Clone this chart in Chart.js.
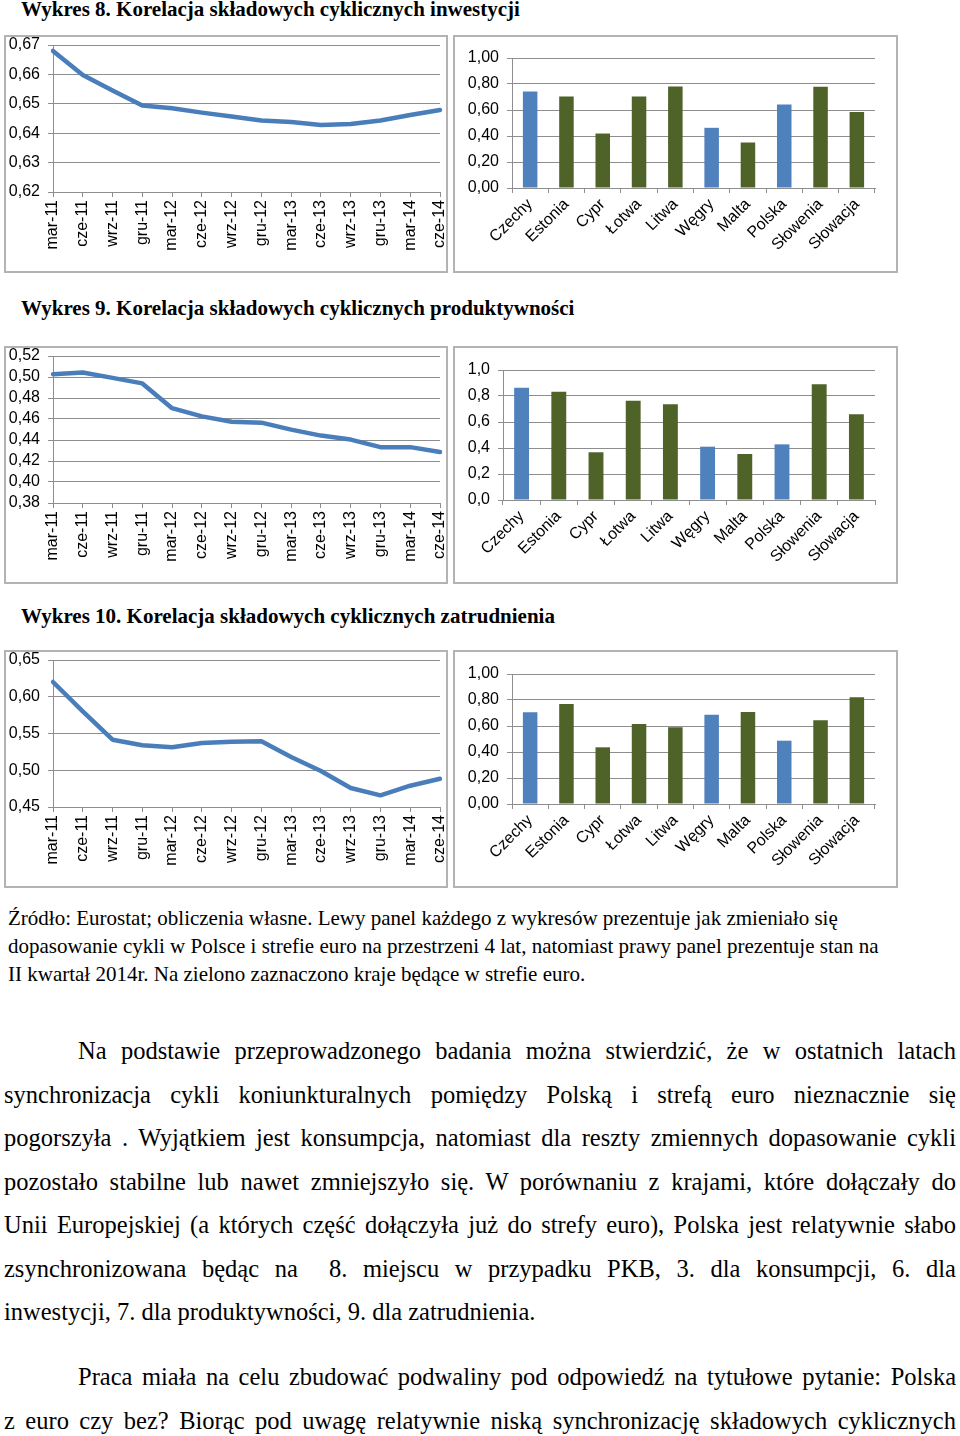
<!DOCTYPE html>
<html lang="pl">
<head>
<meta charset="utf-8">
<title>Wykresy 8-10</title>
<script src="https://cdn.jsdelivr.net/npm/chart.js@4.4.1/dist/chart.umd.min.js"></script>
<style>
  html, body { margin: 0; padding: 0; background: #fff; }
  body { width: 960px; height: 1436px; position: relative; overflow: hidden;
         font-family: "Liberation Serif", "Times New Roman", serif; color: #000; }
  .title { position: absolute; left: 21px; font-weight: bold; font-size: 21px; line-height: 24px; white-space: nowrap; }
  .box { position: absolute; box-sizing: border-box; height: 238px; border: 2px solid #b3b3b3; background: #fff; }
  .box.l { left: 4px; width: 444px; }
  .box.r { left: 453px; width: 445px; }
  .box canvas { display: block; }
  .note { position: absolute; left: 8px; top: 904px; font-size: 21px; line-height: 28px; white-space: nowrap; }
  .par { position: absolute; left: 4px; width: 952px; font-size: 24.5px; line-height: 43.5px; }
  .par span { display: block; text-align: justify; text-align-last: justify; }
  .par span.first { padding-left: 74px; }
  .par span.last { text-align-last: left; }
</style>
</head>
<body>

<div class="title" style="top:-3px">Wykres 8. Korelacja składowych cyklicznych inwestycji</div>
<div class="box l" style="top:35px"><canvas id="invLine" width="440" height="234"></canvas></div>
<div class="box r" style="top:35px"><canvas id="invBars" width="441" height="234"></canvas></div>

<div class="title" style="top:296px">Wykres 9. Korelacja składowych cyklicznych produktywności</div>
<div class="box l" style="top:346px"><canvas id="prodLine" width="440" height="234"></canvas></div>
<div class="box r" style="top:346px"><canvas id="prodBars" width="441" height="234"></canvas></div>

<div class="title" style="top:604px">Wykres 10. Korelacja składowych cyklicznych zatrudnienia</div>
<div class="box l" style="top:650px"><canvas id="empLine" width="440" height="234"></canvas></div>
<div class="box r" style="top:650px"><canvas id="empBars" width="441" height="234"></canvas></div>

<div class="note">Źródło: Eurostat; obliczenia własne. Lewy panel każdego z wykresów prezentuje jak zmieniało się<br>
dopasowanie cykli w Polsce i strefie euro na przestrzeni 4 lat, natomiast prawy panel prezentuje stan na<br>
II kwartał 2014r. Na zielono zaznaczono kraje będące w strefie euro.</div>

<div class="par" style="top:1029px">
  <span class="first">Na podstawie przeprowadzonego badania można stwierdzić, że w ostatnich latach</span>
  <span>synchronizacja cykli koniunkturalnych pomiędzy Polską i strefą euro nieznacznie się</span>
  <span>pogorszyła . Wyjątkiem jest konsumpcja, natomiast dla reszty zmiennych dopasowanie cykli</span>
  <span>pozostało stabilne lub nawet zmniejszyło się. W porównaniu z krajami, które dołączały do</span>
  <span>Unii Europejskiej (a których część dołączyła już do strefy euro), Polska jest relatywnie słabo</span>
  <span>zsynchronizowana będąc na &nbsp;8. miejscu w przypadku PKB, 3. dla konsumpcji, 6. dla</span>
  <span class="last">inwestycji, 7. dla produktywności, 9. dla zatrudnienia.</span>
</div>

<div class="par" style="top:1355px">
  <span class="first">Praca miała na celu zbudować podwaliny pod odpowiedź na tytułowe pytanie: Polska</span>
  <span>z euro czy bez? Biorąc pod uwagę relatywnie niską synchronizację składowych cyklicznych</span>
</div>

<script>
// kwartały (lewe panele) i kraje (prawe panele)
const quarters = ["mar-11", "cze-11", "wrz-11", "gru-11", "mar-12", "cze-12", "wrz-12",
                  "gru-12", "mar-13", "cze-13", "wrz-13", "gru-13", "mar-14", "cze-14"];
const countries = ["Czechy", "Estonia", "Cypr", "Łotwa", "Litwa", "Węgry", "Malta",
                   "Polska", "Słowenia", "Słowacja"];
const inEuro = [false, true, true, true, true, false, true, false, true, true];

// Wykres 8 - inwestycje
const invLineValues = [0.668, 0.6598, 0.6545, 0.6494, 0.6485, 0.6470, 0.6457,
                       0.6443, 0.6438, 0.6428, 0.6431, 0.6443, 0.6462, 0.6479];
const invLineTicks = [0.62, 0.63, 0.64, 0.65, 0.66, 0.67];
const invBarValues = [0.743, 0.704, 0.419, 0.704, 0.781, 0.463, 0.350, 0.643, 0.779, 0.584];
const invBarTicks = [0, 0.2, 0.4, 0.6, 0.8, 1.0];

// Wykres 9 - produktywnosc
const prodLineValues = [0.5027, 0.5043, 0.4992, 0.4939, 0.4703, 0.4625, 0.4574,
                        0.4565, 0.4499, 0.4442, 0.4404, 0.4332, 0.4332, 0.4285];
const prodLineTicks = [0.38, 0.40, 0.42, 0.44, 0.46, 0.48, 0.50, 0.52];
const prodBarValues = [0.864, 0.833, 0.367, 0.764, 0.736, 0.410, 0.354, 0.428, 0.890, 0.659];
const prodBarTicks = [0, 0.2, 0.4, 0.6, 0.8, 1.0];

// Wykres 10 - zatrudnienie
const empLineValues = [0.6201, 0.5800, 0.5416, 0.5339, 0.5312, 0.5371, 0.5389,
                       0.5393, 0.5180, 0.4990, 0.4758, 0.4659, 0.4790, 0.4885];
const empLineTicks = [0.45, 0.50, 0.55, 0.60, 0.65];
const empBarValues = [0.705, 0.769, 0.436, 0.615, 0.590, 0.687, 0.708, 0.487, 0.644, 0.821];
const empBarTicks = [0, 0.2, 0.4, 0.6, 0.8, 1.0];

const lineBlue = "#4a7ebb";
const barBlue = "#4f81bd";
const barGreen = "#4f6228";
const gridGrey = "#8e8e8e";
const tickFont = { family: "'Liberation Sans', Arial, sans-serif", size: 16 };

const fmt = (dec) => (v) => Number(v).toFixed(dec).replace(".", ",");

// fixed axis sizes so the plot areas sit where the original ones do
function yAxis(ticks, dec, width) {
    return {
        min: ticks[0],
        max: ticks[ticks.length - 1],
        afterBuildTicks: (s) => { s.ticks = ticks.map((v) => ({ value: v })); },
        afterFit: (s) => { s.width = width; s.paddingTop = 0; s.paddingBottom = 0; },
        grid: { color: gridGrey, tickLength: 5 },
        border: { color: gridGrey },
        ticks: { autoSkip: false, callback: fmt(dec), color: "#000", font: tickFont, padding: 8 },
    };
}

function xAxis(height, rotation, pad) {
    return {
        afterFit: (s) => { s.height = height; s.paddingLeft = 0; s.paddingRight = 0; },
        grid: { drawOnChartArea: false, color: gridGrey, tickLength: 5 },
        border: { color: gridGrey },
        ticks: { autoSkip: false, minRotation: rotation, maxRotation: rotation, padding: pad, color: "#000", font: tickFont },
    };
}

function lineChart(id, values, ticks) {
    const x = xAxis(79, 90, 3);
    x.offset = false;
    new Chart(document.getElementById(id), {
        type: "line",
        data: {
            labels: quarters,
            datasets: [{
                data: values,
                borderColor: lineBlue,
                borderWidth: 4.5,
                borderJoinStyle: "round",
                borderCapStyle: "round",
                pointRadius: 0,
                tension: 0,
            }],
        },
        options: {
            responsive: false,
            animation: false,
            events: [],
            layout: { padding: { top: 8, right: 6, left: 0, bottom: 0 } },
            plugins: { legend: { display: false }, tooltip: { enabled: false } },
            scales: { x: x, y: yAxis(ticks, 2, 47) },
        },
    });
}

function barChart(id, values, ticks, dec, yWidth, top) {
    new Chart(document.getElementById(id), {
        type: "bar",
        data: {
            labels: countries,
            datasets: [{
                data: values,
                backgroundColor: inEuro.map((e) => (e ? barGreen : barBlue)),
                barPercentage: 0.4,
                categoryPercentage: 1,
            }],
        },
        options: {
            responsive: false,
            animation: false,
            events: [],
            layout: { padding: { top: top, right: 21, left: 0, bottom: 0 } },
            plugins: { legend: { display: false }, tooltip: { enabled: false } },
            scales: { x: xAxis(234 - top - 130, 45, 2), y: yAxis(ticks, dec, yWidth) },
        },
    });
}

lineChart("invLine", invLineValues, invLineTicks);
barChart("invBars", invBarValues, invBarTicks, 2, 57, 21);

lineChart("prodLine", prodLineValues, prodLineTicks);
barChart("prodBars", prodBarValues, prodBarTicks, 1, 48, 22);

lineChart("empLine", empLineValues, empLineTicks);
barChart("empBars", empBarValues, empBarTicks, 2, 57, 22);
</script>
</body>
</html>
